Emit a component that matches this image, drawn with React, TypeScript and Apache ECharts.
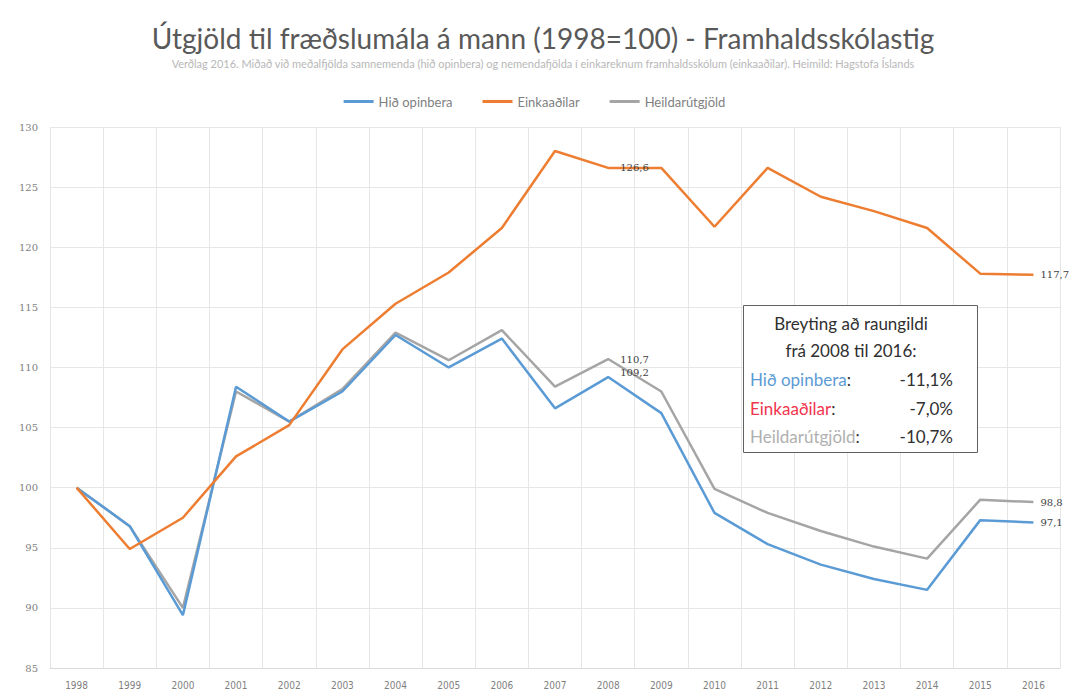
import React, { useEffect, useRef } from "react";
import * as echarts from "echarts";

const years = ["1998","1999","2000","2001","2002","2003","2004","2005","2006","2007","2008","2009","2010","2011","2012","2013","2014","2015","2016"];
const hidOpinbera = [100, 96.8, 89.4, 108.4, 105.5, 108.0, 112.7, 110.0, 112.4, 106.6, 109.2, 106.2, 97.9, 95.3, 93.6, 92.4, 91.5, 97.3, 97.1];
const einkaadilar = [100, 94.9, 97.5, 102.6, 105.2, 111.5, 115.3, 117.9, 121.6, 128.0, 126.6, 126.6, 121.7, 126.6, 124.2, 123.0, 121.6, 117.8, 117.7];
const heildarutgjold = [100, 96.8, 90.0, 108.0, 105.5, 108.2, 112.9, 110.6, 113.1, 108.4, 110.7, 108.0, 99.9, 97.9, 96.4, 95.1, 94.1, 99.0, 98.8];
const seriesNames = ["Hið opinbera", "Einkaaðilar", "Heildarútgjöld"];
const colors = ["#5b9bd5", "#ed7d31", "#a5a5a5"];
const labelledIdx = [10, 18];

const titleText = "Útgjöld til fræðslumála á mann (1998=100) - Framhaldsskólastig";
const subtitleText = "Verðlag 2016. Miðað við meðalfjölda samnemenda (hið opinbera) og nemendafjölda í einkareknum framhaldsskólum (einkaaðilar). Heimild: Hagstofa Íslands";

const boxTitle1 = "Breyting að raungildi";
const boxTitle2 = "frá 2008 til 2016:";
const boxRows = [
  { name: "Hið opinbera", color: "#5b9bd5", value: "-11,1%" },
  { name: "Einkaaðilar", color: "#f0344c", value: "-7,0%" },
  { name: "Heildarútgjöld", color: "#b0b0b0", value: "-10,7%" },
];

const fmt = (v: number) => v.toFixed(1).replace(".", ",");

export default function App() {
  const ref = useRef<HTMLDivElement>(null);
  useEffect(() => {
    if (!ref.current) return;
    const chart = echarts.init(ref.current, null, { renderer: "svg" });
    const font = "Lato, 'Open Sans', sans-serif";
    const mk = (vals: number[], offsets: Record<number, [number, number]>, dist: Record<number, number>) =>
      vals.map((v, i) =>
        labelledIdx.includes(i)
          ? {
              value: v,
              label: {
                show: true,
                position: "right",
                distance: dist[i] ?? 6,
                offset: offsets[i] ?? [0, 0],
                formatter: (p: any) => fmt(p.value),
                color: "#404040",
                fontSize: 10,
                fontFamily: "'DejaVu Serif', serif",
              },
            }
          : v
      );
    const data = [
      mk(hidOpinbera, { 10: [0, -5] }, { 10: 12, 18: 7 }),
      mk(einkaadilar, { 10: [0, 0] }, { 10: 12, 18: 7 }),
      mk(heildarutgjold, { 10: [0, 0] }, { 10: 12, 18: 7 }),
    ];
    const rowYs = [379, 408, 436];
    const graphics: any[] = [
      {
        type: "rect",
        shape: { x: 743.5, y: 305.5, width: 234, height: 147 },
        style: { fill: "#ffffff", stroke: "#606060", lineWidth: 1 },
        z: 100,
      },
      {
        type: "text",
        x: 851, y: 323, z: 101,
        style: { text: boxTitle1, fill: "#303030", font: `17px ${font}`, textAlign: "center", textVerticalAlign: "middle" },
      },
      {
        type: "text",
        x: 851, y: 350, z: 101,
        style: { text: boxTitle2, fill: "#303030", font: `17px ${font}`, textAlign: "center", textVerticalAlign: "middle" },
      },
    ];
    boxRows.forEach((r, i) => {
      graphics.push({
        type: "text",
        x: 750, y: rowYs[i], z: 101,
        style: {
          text: `{n|${r.name}}{c|:}`,
          rich: {
            n: { fill: r.color, font: `17px ${font}` },
            c: { fill: "#303030", font: `17px ${font}` },
          },
          textVerticalAlign: "middle",
        },
      });
      graphics.push({
        type: "text",
        x: 953, y: rowYs[i], z: 101,
        style: { text: r.value, fill: "#303030", font: `17px ${font}`, textAlign: "right", textVerticalAlign: "middle" },
      });
    });
    graphics.push({
      type: "text",
      x: 543, y: 38,
      style: { text: titleText, fill: "#595959", font: `28px ${font}`, textAlign: "center", textVerticalAlign: "middle" },
    });
    graphics.push({
      type: "text",
      x: 543, y: 63,
      style: { text: subtitleText, fill: "#b8b8b8", font: `11px ${font}`, textAlign: "center", textVerticalAlign: "middle" },
    });

    chart.setOption({
      animation: false,
      backgroundColor: "#ffffff",
      color: colors,
      legend: {
        top: 90,
        left: "center",
        icon: "rect",
        itemWidth: 30,
        itemHeight: 3,
        itemGap: 30,
        textStyle: { color: "#7f7f7f", fontSize: 13, fontFamily: font },
        data: seriesNames,
      },
      grid: { left: 50, right: 9, top: 127, bottom: 32, containLabel: false },
      xAxis: {
        type: "category",
        data: years,
        boundaryGap: true,
        axisLine: { show: true, lineStyle: { color: "#d9d9d9" } },
        axisTick: { show: false },
        splitLine: { show: true, lineStyle: { color: "#e6e6e6", width: 1 } },
        axisLabel: { color: "#7f7f7f", fontSize: 10, fontFamily: "'Liberation Sans Narrow', 'DejaVu Sans Condensed', sans-serif", margin: 12 },
      },
      yAxis: {
        type: "value",
        min: 85,
        max: 130,
        interval: 5,
        axisLine: { show: false },
        axisTick: { show: false },
        splitLine: { show: true, lineStyle: { color: "#e6e6e6", width: 1 } },
        axisLabel: { color: "#7f7f7f", fontSize: 10, fontFamily: "'DejaVu Serif', serif", margin: 12 },
      },
      series: seriesNames.map((name, i) => ({
        name,
        type: "line",
        data: data[i],
        symbol: "circle",
        symbolSize: 0,
        showSymbol: true,
        lineStyle: { width: 2.5, color: colors[i] },
        itemStyle: { color: colors[i] },
        z: i === 2 ? 2 : 3,
      })),
      graphic: graphics,
    });
    return () => chart.dispose();
  }, []);
  return <div ref={ref} style={{ position: "fixed", left: 0, top: 0, width: 1069, height: 700 }} />;
}
